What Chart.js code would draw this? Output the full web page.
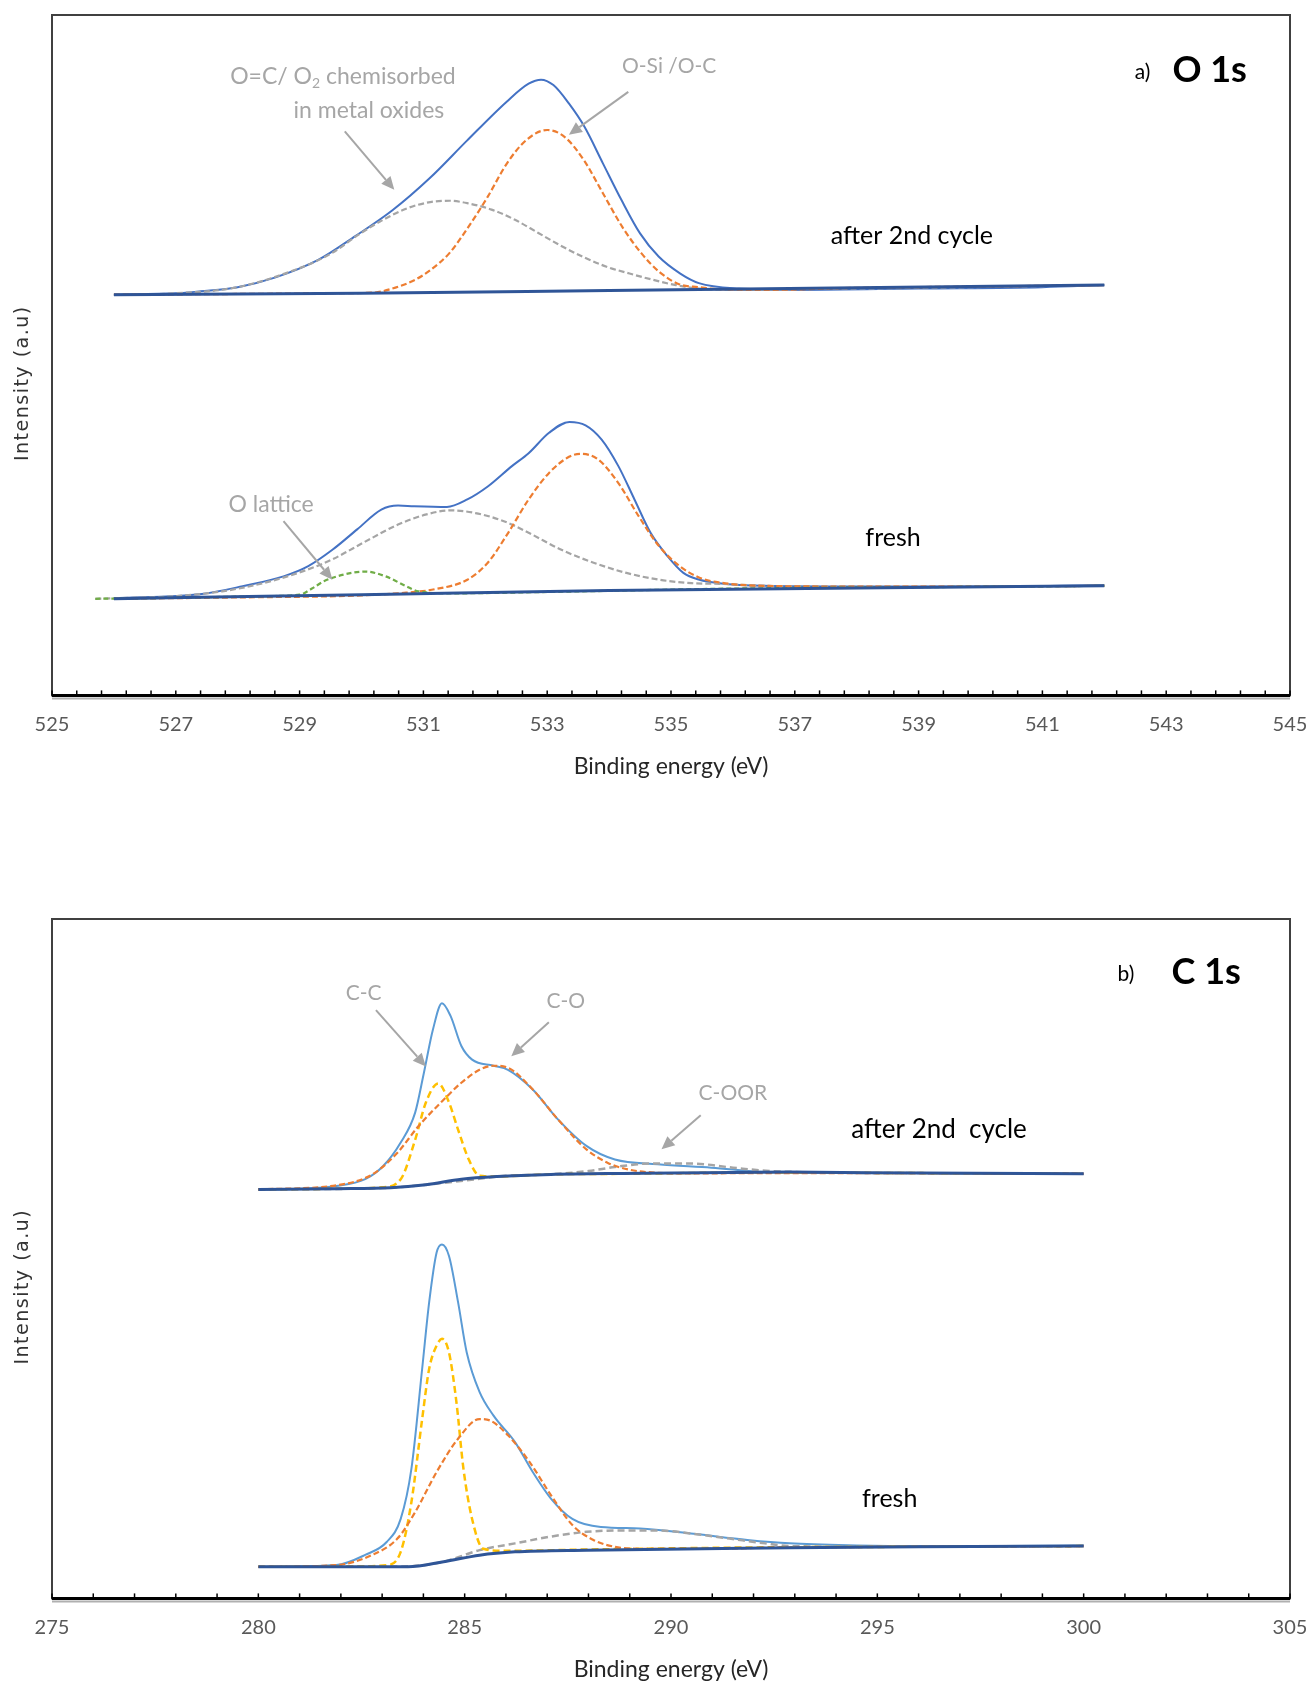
<!DOCTYPE html>
<html>
<head>
<meta charset="utf-8">
<script src="https://cdn.jsdelivr.net/npm/chart.js@4.4.1/dist/chart.umd.min.js"></script>
<style>
  body { margin: 0; background: #fff; width: 1310px; height: 1683px; position: relative; overflow: hidden; }
  .panel { position: absolute; left: 0; width: 1310px; }
  #wrapA { top: 0; height: 790px; }
  #wrapB { top: 880px; height: 803px; }
</style>
</head>
<body>
<div class="panel" id="wrapA"><canvas id="chartA" width="1310" height="790"></canvas></div>
<div class="panel" id="wrapB"><canvas id="chartB" width="1310" height="803"></canvas></div>
<script>
// ---- a) O 1s : binding energy (eV) / intensity (a.u.) ----
const aTickLabels = [525, 527, 529, 531, 533, 535, 537, 539, 541, 543, 545];

// after 2nd cycle
const aBaseAfterX = [526, 530, 534, 538, 542];
const aBaseAfterY = [58.9, 59.1, 59.5, 59.9, 60.3];
const aEnvAfterX = [526, 527, 527.4, 528.0, 528.6, 529.3, 529.9, 530.5, 531.1, 531.7, 532.35, 532.7, 532.9, 533.1, 533.35, 533.6, 533.9, 534.2, 534.5, 534.8, 535.15, 535.45, 536.1, 537.1, 539, 541, 542];
const aEnvAfterY = [58.9, 59.1, 59.4, 60.0, 61.4, 64.0, 67.5, 71.3, 76.0, 81.5, 87.3, 89.9, 90.5, 89.7, 87.0, 83.6, 78.2, 72.8, 67.9, 64.5, 62.0, 60.6, 59.8, 59.6, 59.8, 60.0, 60.3];
const aChemAfterX = [526, 527, 528, 529, 529.5, 530, 530.37, 530.74, 531.11, 531.42, 531.73, 532.1, 532.48, 532.85, 533.22, 533.59, 533.96, 534.33, 534.7, 535.08, 535.45, 536.07, 537, 539, 542];
const aChemAfterY = [58.9, 59.1, 60.0, 62.8, 64.9, 68.0, 70.0, 71.6, 72.5, 72.7, 72.3, 71.4, 69.9, 68.0, 66.1, 64.4, 63.0, 62.0, 61.1, 60.3, 59.8, 59.6, 59.7, 59.9, 60.3];
const aOSiAfterX = [526, 528, 529.5, 530.19, 530.5, 530.87, 531.11, 531.42, 531.73, 532.04, 532.35, 532.66, 533.0, 533.28, 533.59, 533.9, 534.21, 534.52, 534.83, 535.14, 535.45, 535.76, 536.5, 538, 540, 542];
const aOSiAfterY = [58.9, 59.0, 59.1, 59.2, 59.8, 61.1, 62.5, 65.0, 68.9, 73.3, 78.2, 81.6, 83.1, 82.1, 78.7, 73.8, 68.9, 65.0, 62.1, 60.4, 60.0, 59.7, 59.6, 59.9, 60.1, 60.3];

// fresh
const aBaseFreshX = [526, 530, 534, 538, 542];
const aBaseFreshY = [14.2, 14.8, 15.4, 15.8, 16.1];
const aEnvFreshX = [526, 527.42, 528.08, 528.74, 529.14, 529.53, 529.93, 530.32, 530.59, 530.85, 531.38, 531.71, 532.04, 532.43, 532.7, 533.03, 533.36, 533.62, 533.88, 534.15, 534.41, 534.67, 534.94, 535.2, 535.46, 535.78, 536.5, 538, 540, 542];
const aEnvFreshY = [14.3, 14.9, 16.05, 17.5, 19.0, 21.4, 24.4, 27.3, 27.9, 27.8, 27.7, 28.8, 30.7, 33.7, 35.6, 38.6, 40.2, 39.7, 37.6, 33.7, 28.8, 23.9, 20.5, 18.0, 17.0, 16.5, 16.1, 16.0, 16.0, 16.2];
const aChemFreshX = [525.7, 527, 527.75, 528.41, 529.07, 529.53, 530.06, 530.59, 531.05, 531.44, 531.84, 532.3, 532.7, 533.23, 533.75, 534.28, 534.81, 535.33, 535.78, 536.5, 538, 540, 542];
const aChemFreshY = [14.2, 14.6, 15.3, 16.5, 18.3, 20.0, 22.6, 25.1, 26.6, 27.2, 26.8, 25.6, 23.9, 21.4, 19.5, 18.0, 17.0, 16.5, 16.4, 16.1, 16.0, 16.0, 16.1];
const aLatticeFreshX = [525.7, 527, 528.5, 529.0, 529.2, 529.4, 529.73, 530.06, 530.39, 530.72, 530.92, 531.5, 533, 536, 539, 542];
const aLatticeFreshY = [14.2, 14.35, 14.6, 14.8, 15.7, 16.8, 17.8, 18.2, 17.5, 16.05, 15.3, 15.0, 15.2, 15.7, 15.9, 16.1];
const aOSiFreshX = [526, 528, 530, 530.72, 531.18, 531.71, 532.04, 532.37, 532.7, 533.03, 533.36, 533.55, 533.82, 534.15, 534.48, 534.81, 535.14, 535.46, 535.78, 536.5, 538, 540, 542];
const aOSiFreshY = [14.2, 14.4, 14.7, 15.1, 15.6, 17.0, 19.5, 23.9, 28.8, 32.7, 35.1, 35.5, 34.7, 31.2, 26.3, 21.9, 19.0, 17.3, 16.6, 16.1, 16.0, 16.0, 16.1];

// ---- b) C 1s ----
const bTickLabels = [275, 280, 285, 290, 295, 300, 305];

// after 2nd cycle
const bBaseAfterX = [280, 281.9, 283.2, 284.06, 284.92, 285.79, 287.09, 288.82, 292.87, 296, 300];
const bBaseAfterY = [60.2, 60.3, 60.45, 60.9, 61.7, 62.1, 62.4, 62.55, 62.75, 62.6, 62.5];
const bEnvAfterX = [280, 281.0, 281.89, 282.59, 283.02, 283.45, 283.8, 284.01, 284.23, 284.45, 284.66, 284.92, 285.18, 285.7, 286.05, 286.65, 287.26, 287.95, 288.64, 289.68, 290.98, 292.28, 294, 296, 298, 300];
const bEnvAfterY = [60.2, 60.3, 60.7, 61.7, 63.6, 67.1, 71.5, 77.3, 83.7, 87.6, 85.7, 81.3, 79.3, 78.4, 77.8, 74.9, 70.5, 66.6, 64.6, 63.9, 63.4, 62.75, 62.6, 62.6, 62.5, 62.5];
const bCCAfterX = [280, 282, 283.0, 283.45, 283.8, 284.06, 284.36, 284.62, 284.84, 285.1, 285.36, 285.7, 287, 289, 292, 296, 300];
const bCCAfterY = [60.2, 60.3, 60.5, 61.7, 67.5, 73.0, 75.8, 73.0, 69.0, 64.6, 62.2, 62.1, 62.4, 62.5, 62.7, 62.6, 62.5];
const bCOAfterX = [280, 281.89, 282.76, 283.37, 283.88, 284.49, 284.92, 285.36, 285.7, 286.05, 286.65, 287.26, 287.95, 288.47, 288.99, 289.68, 290.55, 292, 294, 296, 300];
const bCOAfterY = [60.2, 60.8, 62.4, 65.6, 69.5, 73.4, 75.9, 77.8, 78.4, 78.1, 74.9, 70.5, 66.1, 64.1, 63.1, 62.65, 62.55, 62.6, 62.6, 62.6, 62.5];
const bCOORAfterX = [280, 283, 285, 286, 287, 288, 288.64, 289.5, 290.5, 291.5, 292.3, 293.5, 296, 300];
const bCOORAfterY = [60.2, 60.4, 61.5, 62.2, 62.4, 62.9, 63.5, 64.0, 64.0, 63.4, 62.95, 62.7, 62.6, 62.5];

// fresh
const bBaseFreshX = [280, 283.63, 284.49, 285.36, 286.22, 287.95, 292.87, 296, 300];
const bBaseFreshY = [4.65, 4.65, 5.4, 6.36, 6.85, 7.1, 7.44, 7.6, 7.7];
const bEnvFreshX = [280, 281.89, 282.59, 283.11, 283.45, 283.71, 283.97, 284.14, 284.32, 284.45, 284.62, 284.84, 285.05, 285.36, 285.7, 286.22, 286.65, 287.09, 287.61, 288.3, 289.25, 290.55, 291.85, 292.87, 294.5, 296, 298, 300];
const bEnvFreshY = [4.65, 4.9, 6.4, 8.3, 11.7, 19.1, 33.8, 43.6, 50.9, 52.1, 50.4, 43.6, 36.2, 30.4, 26.9, 23.0, 18.6, 14.7, 11.7, 10.5, 10.3, 9.5, 8.6, 8.1, 7.8, 7.7, 7.7, 7.8];
const bCCFreshX = [280, 282, 283.11, 283.45, 283.71, 283.97, 284.14, 284.32, 284.45, 284.62, 284.8, 284.97, 285.18, 285.45, 286, 288, 292, 296, 300];
const bCCFreshY = [4.65, 4.7, 4.9, 6.85, 14.2, 26.4, 33.8, 37.2, 38.2, 36.2, 28.9, 19.1, 11.7, 7.3, 7.0, 7.2, 7.5, 7.6, 7.7];
const bCOFreshX = [280, 281.89, 282.76, 283.37, 283.8, 284.32, 284.84, 285.36, 285.61, 286.05, 286.57, 287.09, 287.61, 288.12, 288.64, 289.25, 290.5, 293, 296, 300];
const bCOFreshY = [4.65, 4.9, 6.4, 8.8, 12.7, 18.6, 23.5, 26.4, 26.2, 24.0, 20.1, 15.2, 10.8, 8.6, 7.6, 7.3, 7.3, 7.5, 7.6, 7.7];
const bCOORFreshX = [280, 283.5, 284.49, 285.36, 286.22, 287.09, 287.95, 288.82, 289.68, 290.55, 291.42, 292.28, 292.87, 295, 300];
const bCOORFreshY = [4.65, 4.7, 5.4, 7.1, 8.1, 9.1, 9.8, 10.0, 10.0, 9.5, 8.8, 8.1, 7.7, 7.6, 7.7];

// colours
const BLUE = '#4472C4', BLUE_B = '#5B9BD5', BASE = '#2F5597', ORANGE = '#ED7D31',
      GREY = '#A5A5A5', GREEN = '#70AD47', YELLOW = '#FFC000', NOTE = '#A6A6A6';

function pts(xs, ys) { return xs.map((x, i) => ({ x: x, y: ys[i] })); }

function line(xs, ys, color, width, dash) {
  return {
    data: pts(xs, ys),
    borderColor: color,
    borderWidth: width,
    borderDash: dash || [],
    pointRadius: 0,
    fill: false,
    cubicInterpolationMode: 'monotone'
  };
}

// frame, inward ticks, y title, notes and arrows
const notesPlugin = {
  id: 'notes',
  afterDatasetsDraw(chart, args, opts) {
    const ctx = chart.ctx;
    const ca = chart.chartArea;
    const xs = chart.scales.x, ys = chart.scales.y;
    ctx.save();
    // plot frame
    ctx.strokeStyle = '#404040';
    ctx.lineWidth = 2;
    ctx.strokeRect(ca.left, ca.top, ca.right - ca.left, ca.bottom - ca.top);
    // x axis line with shadow
    ctx.strokeStyle = '#b0b0b0';
    ctx.lineWidth = 2;
    ctx.beginPath(); ctx.moveTo(ca.left, ca.bottom + 3); ctx.lineTo(ca.right, ca.bottom + 3); ctx.stroke();
    ctx.strokeStyle = '#000';
    ctx.lineWidth = 3;
    ctx.beginPath(); ctx.moveTo(ca.left, ca.bottom); ctx.lineTo(ca.right, ca.bottom); ctx.stroke();
    // inward tick marks
    ctx.lineWidth = 1.5;
    xs.ticks.forEach(t => {
      const px = xs.getPixelForValue(t.value);
      ctx.beginPath(); ctx.moveTo(px, ca.bottom); ctx.lineTo(px, ca.bottom - 5); ctx.stroke();
    });
    // y axis title (sits a little below the middle, as in the original)
    ctx.save();
    ctx.translate(ca.left - 29, (ca.top + ca.bottom) / 2 + 28);
    ctx.rotate(-Math.PI / 2);
    ctx.fillStyle = '#333';
    ctx.font = '19px "DejaVu Sans"';
    if ('letterSpacing' in ctx) ctx.letterSpacing = '1.5px';
    ctx.textAlign = 'center';
    ctx.textBaseline = 'middle';
    ctx.fillText(opts.yTitle, 0, 0);
    ctx.restore();
    // arrows
    (opts.arrows || []).forEach(a => {
      const x1 = xs.getPixelForValue(a.from[0]), y1 = ys.getPixelForValue(a.from[1]);
      const x2 = xs.getPixelForValue(a.to[0]), y2 = ys.getPixelForValue(a.to[1]);
      const ang = Math.atan2(y2 - y1, x2 - x1);
      const hl = 13, hw = 6;
      ctx.strokeStyle = NOTE;
      ctx.fillStyle = NOTE;
      ctx.lineWidth = 2;
      ctx.beginPath();
      ctx.moveTo(x1, y1);
      ctx.lineTo(x2 - hl * Math.cos(ang), y2 - hl * Math.sin(ang));
      ctx.stroke();
      ctx.beginPath();
      ctx.moveTo(x2, y2);
      ctx.lineTo(x2 - hl * Math.cos(ang) + hw * Math.sin(ang), y2 - hl * Math.sin(ang) - hw * Math.cos(ang));
      ctx.lineTo(x2 - hl * Math.cos(ang) - hw * Math.sin(ang), y2 - hl * Math.sin(ang) + hw * Math.cos(ang));
      ctx.closePath();
      ctx.fill();
    });
    // texts
    ctx.textBaseline = 'middle';
    (opts.texts || []).forEach(t => {
      const px = xs.getPixelForValue(t.x), py = ys.getPixelForValue(t.y);
      const parts = t.parts || [{ t: t.text }];
      const size = t.size || 22;
      const weight = t.bold ? 'bold ' : '';
      const family = t.family || 'Lato';
      ctx.fillStyle = t.color || '#000';
      let total = 0;
      parts.forEach(p => {
        ctx.font = weight + (p.sub ? Math.round(size * 0.6) : size) + 'px ' + family;
        total += ctx.measureText(p.t).width;
      });
      let cx = t.align === 'center' ? px - total / 2 : px;
      ctx.textAlign = 'left';
      parts.forEach(p => {
        ctx.font = weight + (p.sub ? Math.round(size * 0.6) : size) + 'px ' + family;
        ctx.fillText(p.t, cx, p.sub ? py + size * 0.3 : py);
        cx += ctx.measureText(p.t).width;
      });
    });
    ctx.restore();
  }
};

function xScale(min, max, step, labels) {
  return {
    type: 'linear',
    min: min,
    max: max,
    // grid hidden; tickLength only reserves the gap above the labels
    grid: { display: false, drawTicks: true, tickLength: 17 },
    border: { display: false },
    ticks: {
      stepSize: step,
      autoSkip: false,
      maxRotation: 0,
      padding: 0,
      color: '#595959',
      font: { family: 'Lato', size: 20 },
      callback: v => {
        const r = Math.round(v * 10) / 10;
        return labels.includes(r) ? String(r) : '';
      }
    },
    title: {
      display: true,
      text: 'Binding energy (eV)',
      color: '#262626',
      font: { family: 'Lato', size: 23 },
      padding: { top: 16, bottom: 0 }
    }
  };
}

const yScale = {
  display: false,
  min: 0,
  max: 100
};

// dataset 0 is drawn on top: baselines, then fitted components, then envelopes
new Chart(document.getElementById('chartA'), {
  type: 'line',
  data: {
    datasets: [
      line(aBaseAfterX, aBaseAfterY, BASE, 3),
      line(aBaseFreshX, aBaseFreshY, BASE, 3),
      line(aOSiAfterX, aOSiAfterY, ORANGE, 2.2, [6, 3]),
      line(aChemAfterX, aChemAfterY, GREY, 2.2, [6, 3]),
      line(aLatticeFreshX, aLatticeFreshY, GREEN, 2.2, [5, 3]),
      line(aOSiFreshX, aOSiFreshY, ORANGE, 2.2, [6, 3]),
      line(aChemFreshX, aChemFreshY, GREY, 2.2, [6, 3]),
      line(aEnvAfterX, aEnvAfterY, BLUE, 2),
      line(aEnvFreshX, aEnvFreshY, BLUE, 2)
    ]
  },
  options: {
    responsive: false,
    animation: false,
    layout: { padding: { left: 52, top: 15, right: 20, bottom: 10 } },
    plugins: {
      legend: { display: false },
      tooltip: { enabled: false },
      notes: {
        yTitle: 'Intensity (a.u)',
        texts: [
          { x: 529.70, y: 90.9, align: 'center', color: NOTE, size: 23, parts: [{ t: 'O=C/ O' }, { t: '2', sub: true }, { t: ' chemisorbed' }] },
          { x: 530.12, y: 86.0, align: 'center', color: NOTE, size: 23, text: 'in metal oxides' },
          { x: 534.97, y: 92.4, align: 'center', color: NOTE, size: 21, text: 'O-Si /O-C' },
          { x: 527.85, y: 28.0, color: NOTE, size: 23, text: 'O lattice' },
          { x: 537.58, y: 67.6, size: 25, text: 'after 2nd cycle' },
          { x: 538.14, y: 23.2, size: 25, text: 'fresh' },
          { x: 542.49, y: 91.6, size: 21, text: 'a)' },
          { x: 543.10, y: 91.9, size: 36, bold: true, text: 'O 1s' }
        ],
        arrows: [
          { from: [529.73, 82.9], to: [530.53, 74.3] },
          { from: [534.31, 88.7], to: [533.35, 82.4] },
          { from: [528.74, 25.6], to: [529.53, 17.0] }
        ]
      }
    },
    scales: { x: xScale(525, 545, 0.4, aTickLabels), y: yScale }
  },
  plugins: [notesPlugin]
});

new Chart(document.getElementById('chartB'), {
  type: 'line',
  data: {
    datasets: [
      line(bBaseAfterX, bBaseAfterY, BASE, 3),
      line(bBaseFreshX, bBaseFreshY, BASE, 3),
      line(bCOAfterX, bCOAfterY, ORANGE, 2.2, [6, 3]),
      line(bCCAfterX, bCCAfterY, YELLOW, 2.5, [7, 4]),
      line(bCOORAfterX, bCOORAfterY, GREY, 2.5, [7, 4]),
      line(bCOFreshX, bCOFreshY, ORANGE, 2.2, [6, 3]),
      line(bCCFreshX, bCCFreshY, YELLOW, 2.5, [7, 4]),
      line(bCOORFreshX, bCOORFreshY, GREY, 2.5, [7, 4]),
      line(bEnvAfterX, bEnvAfterY, BLUE_B, 2),
      line(bEnvFreshX, bEnvFreshY, BLUE_B, 2)
    ]
  },
  options: {
    responsive: false,
    animation: false,
    layout: { padding: { left: 52, top: 39, right: 20, bottom: 0 } },
    plugins: {
      legend: { display: false },
      tooltip: { enabled: false },
      notes: {
        yTitle: 'Intensity (a.u)',
        texts: [
          { x: 282.55, y: 89.1, align: 'center', color: NOTE, size: 21, text: 'C-C' },
          { x: 287.45, y: 87.9, align: 'center', color: NOTE, size: 21, text: 'C-O' },
          { x: 291.50, y: 74.4, align: 'center', color: NOTE, size: 21, text: 'C-OOR' },
          { x: 294.37, y: 69.0, size: 26, text: 'after 2nd  cycle' },
          { x: 294.63, y: 14.7, size: 25, text: 'fresh' },
          { x: 300.82, y: 91.8, size: 21, text: 'b)' },
          { x: 302.13, y: 92.1, size: 36, bold: true, text: 'C 1s' }
        ],
        arrows: [
          { from: [282.85, 86.6], to: [284.06, 78.3] },
          { from: [287.04, 84.8], to: [286.13, 79.8] },
          { from: [290.72, 71.1], to: [289.77, 66.1] }
        ]
      }
    },
    scales: { x: xScale(275, 305, 1, bTickLabels), y: yScale }
  },
  plugins: [notesPlugin]
});
</script>
</body>
</html>
